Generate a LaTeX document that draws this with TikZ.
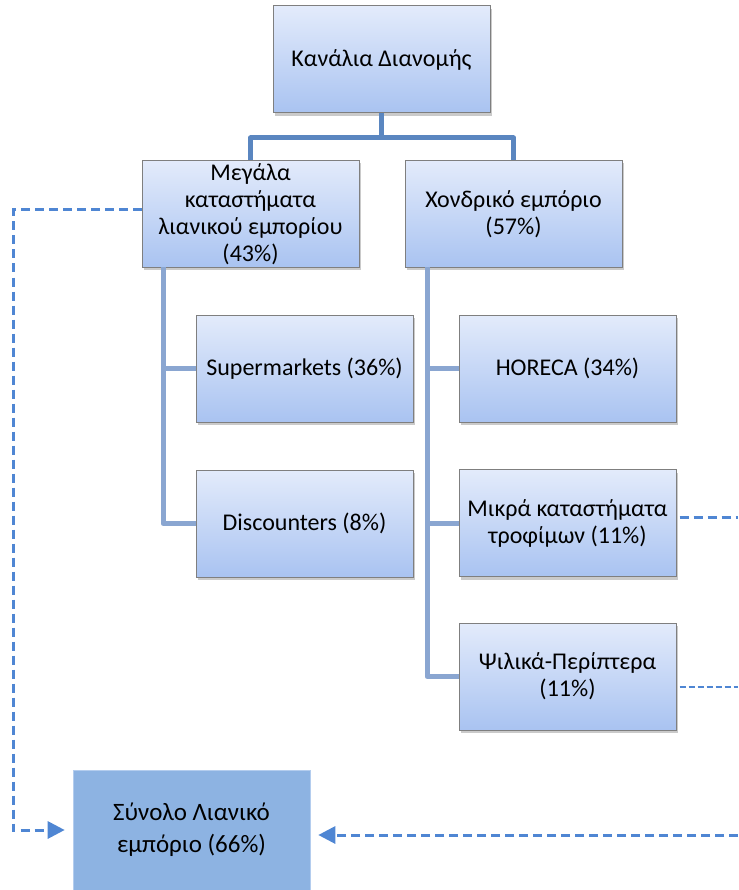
\documentclass[tikz,border=0pt]{standalone}
\usepackage{fontspec}
\setmainfont{Carlito}
\usetikzlibrary{shadows,arrows.meta}

\definecolor{boxtop}{HTML}{E3EBFB}
\definecolor{boxbot}{HTML}{A9C3F1}
\definecolor{boxline}{HTML}{7F7F7F}
\definecolor{trunkcol}{HTML}{5A86C0}
\definecolor{branchcol}{HTML}{8AA6D1}
\definecolor{dashcol}{HTML}{4F86D3}
\definecolor{sumfill}{HTML}{8DB3E2}
\definecolor{sumline}{HTML}{B4CDEE}

\tikzset{
  unit/.style={draw=boxline, line width=1pt, top color=boxtop, bottom color=boxbot,
    minimum width=217pt, minimum height=107pt, align=center, inner sep=2pt,
    font=\fontsize{24}{27}\selectfont,
    drop shadow={shadow xshift=2pt, shadow yshift=-3pt, opacity=0.35, fill=black!60}},
  total/.style={draw=sumline, line width=0.6pt, fill=sumfill,
    minimum width=237pt, minimum height=120pt, align=center,
    font=\fontsize{25}{32}\selectfont},
  trunk/.style={draw=trunkcol, line width=5pt, line join=round},
  branch/.style={draw=branchcol, line width=5pt, line join=round},
  link/.style={draw=dashcol, line width=3pt, dash pattern=on 9pt off 5pt},
  thinlink/.style={draw=dashcol, line width=2pt, dash pattern=on 6pt off 3pt},
  tip/.style={-{Triangle[length=17pt,width=17pt]}, shorten >=8pt}
}

\begin{document}
\begin{tikzpicture}[x=1pt,y=-1pt]
  \useasboundingbox (0,0) rectangle (738,890);

  % boxes
  \node[unit] (top)   at (381.5,59.5) {Κανάλια Διανομής};
  \node[unit] (mega)  at (250.5,214)  {Μεγάλα\\καταστήματα\\λιανικού εμπορίου\\(43\%)};
  \node[unit] (xon)   at (513.5,214)  {Χονδρικό εμπόριο\\(57\%)};
  \node[unit] (super) at (304.5,368.5) {Supermarkets (36\%)};
  \node[unit] (disc)  at (304.5,523.5) {Discounters (8\%)};
  \node[unit] (horeca) at (567.5,368.5) {HORECA (34\%)};
  \node[unit] (mikra) at (567.5,523)  {Μικρά καταστήματα\\τροφίμων (11\%)};
  \node[unit] (psil)  at (567.5,676.5) {Ψιλικά-Περίπτερα\\(11\%)};
  \node[total] (sum)  at (191.5,830)  {Σύνολο Λιανικό\\εμπόριο (66\%)};

  % tree connectors
  \coordinate (bus) at (381.5,138);
  \draw[trunk] (top.south) -- (bus);
  \draw[trunk] (mega.north) |- (bus) -| (xon.north);

  \coordinate (lspine) at (163,267.5);
  \draw[branch] (lspine) |- (disc.west);
  \draw[branch] (lspine |- super.west) -- (super.west);

  \coordinate (rspine) at (427,267.5);
  \draw[branch] (rspine) |- (psil.west);
  \draw[branch] (rspine |- horeca.west) -- (horeca.west);
  \draw[branch] (rspine |- mikra.west) -- (mikra.west);

  % dashed flows into the retail total
  \coordinate (lbend) at (13,210);
  \draw[link,tip] ([yshift=4pt]mega.west) -- (lbend) |- (sum.west);

  \coordinate (mikraout) at (738,517);
  \draw[link] ([xshift=3pt]mikraout -| mikra.east) -- (mikraout);

  \coordinate (psilout) at (738,687);
  \draw[thinlink] ([xshift=3pt]psilout -| psil.east) -- (psilout);

  \coordinate (rightin) at (738,835);
  \draw[link,tip] (rightin) -- (rightin -| sum.east);
\end{tikzpicture}
\end{document}
